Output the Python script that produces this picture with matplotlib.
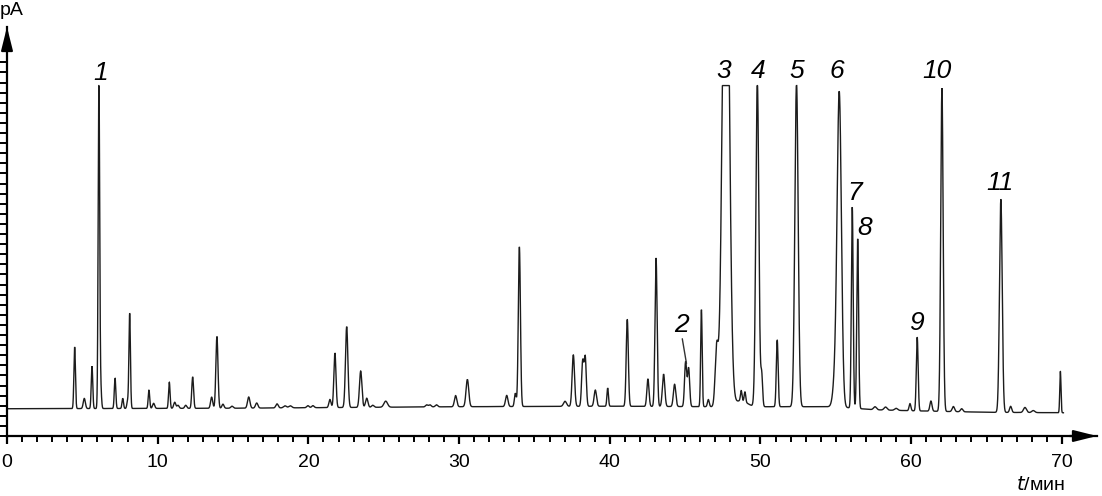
import numpy as np
import matplotlib
matplotlib.use("Agg")
import matplotlib.pyplot as plt

plt.rcParams['font.family'] = ['Liberation Sans', 'DejaVu Sans']

# ---- data (time in min, height in pA-units above baseline, width sigma in min)
peak_time = [4.49, 5.13, 5.64, 6.10, 6.22, 7.17, 7.68, 8.00, 8.14, 9.42, 9.73, 10.77, 11.13, 11.35,
             11.86, 12.32, 13.58, 13.93, 14.33, 14.93, 16.04, 16.57, 17.92, 18.45, 18.80, 19.97,
             20.30, 21.43, 21.76, 22.54, 23.47, 23.87, 24.27, 25.13, 27.85, 28.07, 28.50, 29.77,
             30.55, 33.16, 33.73, 34.00, 37.03, 37.58, 38.20, 38.37, 39.04, 39.86, 41.16, 42.53,
             43.07, 43.57, 44.30, 45.03, 45.23, 46.08, 46.54, 47.09, 47.70, 48.72, 48.97, 48.70,
             49.79, 50.08, 51.11, 52.39, 54.98, 55.23, 56.09, 56.45, 57.60, 58.30, 59.00, 59.92,
             60.40, 61.31, 62.04, 62.80, 63.35, 65.95, 66.60, 67.55, 68.10, 69.90]
peak_height = [61, 10, 42, 326, 20, 30, 10, 7, 94, 18, 5, 26, 6, 3,
               3, 31, 11, 71, 4, 2, 11, 5, 4, 2, 2, 2,
               2, 8, 54, 80, 36, 9, 2, 6, 2, 2, 2, 11,
               27, 11, 13, 158, 5, 51, 44, 48, 16, 18, 86, 27,
               147, 32, 22, 44, 38, 96, 7, 55, 600, 10, 10, 6,
               322, 31, 66, 321, 30, 305, 199, 168, 3, 3, 2, 7,
               73, 10, 320, 5, 3, 211, 6, 5, 2, 41]
peak_sigma = [0.05, 0.07, 0.05, 0.05, 0.05, 0.05, 0.05, 0.05, 0.05, 0.05, 0.07, 0.05, 0.07, 0.07,
              0.07, 0.06, 0.07, 0.07, 0.07, 0.08, 0.08, 0.08, 0.08, 0.10, 0.10, 0.08,
              0.08, 0.07, 0.07, 0.08, 0.08, 0.08, 0.08, 0.12, 0.08, 0.08, 0.08, 0.08,
              0.09, 0.08, 0.06, 0.07, 0.10, 0.08, 0.07, 0.07, 0.08, 0.05, 0.07, 0.07,
              0.07, 0.08, 0.08, 0.07, 0.07, 0.05, 0.06, 0.10, 0.21, 0.05, 0.05, 0.40,
              0.10, 0.06, 0.06, 0.11, 0.15, 0.14, 0.06, 0.06, 0.10, 0.10, 0.10, 0.06,
              0.06, 0.07, 0.08, 0.08, 0.08, 0.09, 0.07, 0.10, 0.10, 0.04]

# baseline level (pA-units above the time axis) read at a few times
base_time = [0, 15, 30, 40, 47, 55, 57.5, 60, 65, 70.1]
base_level = [27, 27.5, 29, 29.5, 29, 29, 26, 25, 23.5, 23]
detector_limit = 347   # flat (saturated) top of peak 3

peak_labels = ['1', '2', '3', '4', '5', '6', '7', '8', '9', '10', '11']
label_t = [6.24, 44.73, 47.58, 49.83, 52.42, 55.08, 56.27, 56.93, 60.32, 61.71, 65.89]
label_y = [352.5, 103, 354.5, 354.5, 354.5, 354.5, 233.7, 199, 105, 354.5, 243.6]

x_major = [0, 10, 20, 30, 40, 50, 60, 70]

# ---- build trace
t = np.linspace(0, 70.1, 30000)
signal = np.interp(t, base_time, base_level)
for t0, h, s in zip(peak_time, peak_height, peak_sigma):
    signal = signal + h * np.exp(-0.5 * ((t - t0) / s) ** 2)
signal = np.minimum(signal, detector_limit)

W, H = 1102, 496
fig = plt.figure(figsize=(W / 100, H / 100), dpi=100)
ax = fig.add_axes([7 / W, (H - 436) / H, 1090 / W, (436 - 27) / H])
ax.set_xlim(0, 72.33)
ax.set_ylim(0, 405)

ax.plot(t, signal, color='#1c1c1c', lw=1.0, solid_joinstyle='miter')

for sp in ['top', 'right']:
    ax.spines[sp].set_visible(False)
for sp in ['left', 'bottom']:
    ax.spines[sp].set_linewidth(1.6)
    ax.spines[sp].set_color('black')

ax.set_xticks(x_major)
ax.set_xticklabels([str(v) for v in x_major], fontsize=14)
ax.set_xticks(np.arange(0, 71, 1), minor=True)
ax.tick_params(axis='x', which='major', direction='out', length=6, width=1.6, pad=7)
ax.tick_params(axis='x', which='minor', direction='out', length=4, width=1.4)
ax.set_yticks(np.arange(0, 375, 10))
ax.set_yticklabels([])
ax.tick_params(axis='y', which='major', direction='out', length=5, width=1.4)

# arrow heads
ax.annotate('', xy=(0, 1.0), xytext=(0, 0.955), xycoords='axes fraction',
            arrowprops=dict(arrowstyle='-|>,head_length=1.4,head_width=0.35',
                            color='black', lw=1.6, shrinkA=0, shrinkB=0), annotation_clip=False)
ax.annotate('', xy=(1.0, 0), xytext=(0.975, 0), xycoords='axes fraction',
            arrowprops=dict(arrowstyle='-|>,head_length=1.4,head_width=0.35',
                            color='black', lw=1.6, shrinkA=0, shrinkB=0), annotation_clip=False)

for lab, lt, ly in zip(peak_labels, label_t, label_y):
    ax.text(lt, ly, lab, fontsize=19, style='italic', ha='center', va='baseline')
ax.annotate('', xy=(45.12, 69), xytext=(44.78, 99),
            arrowprops=dict(arrowstyle='-', color='#333333', lw=1.0))

fig.text(0 / W, 1 - 2 / H, 'pA', fontsize=14, ha='left', va='top')
fig.text(1065 / W, 1 - 490 / H, r'$\it{t}$/мин', fontsize=14, ha='right', va='baseline')

fig.savefig('out.png', dpi=100)
